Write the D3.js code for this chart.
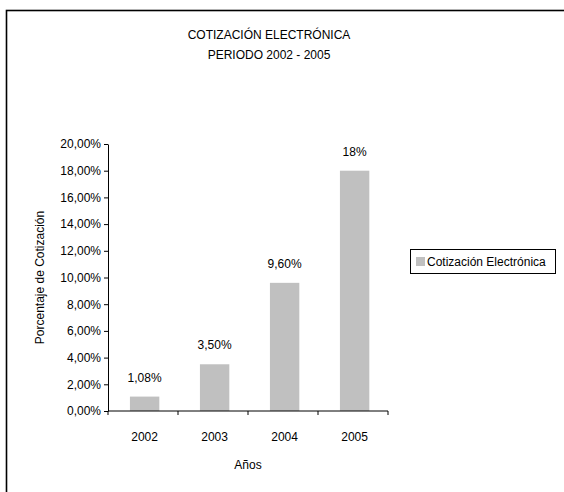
<!DOCTYPE html>
<html>
<head>
<meta charset="utf-8">
<script src="https://cdn.jsdelivr.net/npm/d3@7"></script>
<style>
  html, body { margin: 0; padding: 0; background: #fff; }
  svg { display: block; font-family: "Liberation Sans", Arial, sans-serif; }
</style>
</head>
<body>
<svg id="chart" width="564" height="492"></svg>
<script>
// Electronic quotation share by year
const years = ["2002", "2003", "2004", "2005"];
const values = [1.08, 3.50, 9.60, 18];
const valueLabels = ["1,08%", "3,50%", "9,60%", "18%"];
const yTicks = [0, 2, 4, 6, 8, 10, 12, 14, 16, 18, 20];
const titleLines = ["COTIZACIÓN ELECTRÓNICA", "PERIODO 2002 - 2005"];
const seriesName = "Cotización Electrónica";

const svg = d3.select("#chart");

// outer chart frame (runs off the right and bottom edges)
svg.append("rect")
  .attr("x", 6.5).attr("y", 10.5)
  .attr("width", 600).attr("height", 600)
  .attr("fill", "#fff")
  .attr("stroke", "#000").attr("stroke-width", 1.6);

const plot = { left: 108, right: 388, top: 144, bottom: 411 };

const x = d3.scaleBand()
  .domain(years)
  .range([plot.left, plot.right])
  .paddingInner(0.58)
  .paddingOuter(0.29)
  .align(0.54);

const y = d3.scaleLinear()
  .domain([0, 20])
  .range([plot.bottom, plot.top]);

// title
svg.append("g").selectAll("text")
  .data(titleLines)
  .join("text")
  .attr("x", 269)
  .attr("y", (d, i) => 39 + i * 20)
  .attr("text-anchor", "middle")
  .attr("font-size", 12)
  .attr("fill", "#000")
  .text(d => d);

// bars
svg.append("g").selectAll("rect")
  .data(values)
  .join("rect")
  .attr("x", (d, i) => x(years[i]))
  .attr("y", d => y(d))
  .attr("width", x.bandwidth())
  .attr("height", d => y(0) - y(d))
  .attr("fill", "#C0C0C0");

// value labels
svg.append("g").selectAll("text")
  .data(values)
  .join("text")
  .attr("x", (d, i) => x(years[i]) + x.bandwidth() / 2)
  .attr("y", d => y(d) - 15)
  .attr("text-anchor", "middle")
  .attr("font-size", 12)
  .attr("fill", "#000")
  .text((d, i) => valueLabels[i]);

// y axis
const fmt = d => d.toFixed(2).replace(".", ",") + "%";
const yAxis = svg.append("g")
  .attr("transform", `translate(${plot.left},0)`)
  .call(d3.axisLeft(y).tickValues(yTicks).tickFormat(fmt).tickSize(4).tickSizeOuter(0));
yAxis.select(".domain").attr("stroke", "#000");
yAxis.selectAll(".tick line").attr("stroke", "#000");
yAxis.selectAll(".tick text")
  .attr("font-size", 12)
  .attr("font-family", "Liberation Sans, Arial, sans-serif")
  .attr("fill", "#000")
  .attr("x", -7);

// x axis: ticks between categories
const xAxisG = svg.append("g")
  .attr("transform", `translate(0,${plot.bottom})`);
xAxisG.append("line")
  .attr("x1", plot.left).attr("x2", plot.right)
  .attr("stroke", "#000");
const boundaries = d3.range(years.length + 1).map(i => plot.left + i * (plot.right - plot.left) / years.length);
xAxisG.selectAll("line.sep")
  .data(boundaries)
  .join("line")
  .attr("class", "sep")
  .attr("x1", d => d).attr("x2", d => d)
  .attr("y1", 0).attr("y2", 4)
  .attr("stroke", "#000");
xAxisG.selectAll("text")
  .data(years)
  .join("text")
  .attr("x", d => x(d) + x.bandwidth() / 2)
  .attr("y", 30)
  .attr("text-anchor", "middle")
  .attr("font-size", 12)
  .attr("fill", "#000")
  .text(d => d);

// axis titles
svg.append("text")
  .attr("x", 248)
  .attr("y", 469)
  .attr("text-anchor", "middle")
  .attr("font-size", 12)
  .attr("fill", "#000")
  .text("Años");

svg.append("text")
  .attr("transform", `translate(44,${(plot.top + plot.bottom) / 2}) rotate(-90)`)
  .attr("text-anchor", "middle")
  .attr("font-size", 12)
  .attr("fill", "#000")
  .text("Porcentaje de Cotización");

// legend
const legend = svg.append("g");
legend.append("rect")
  .attr("x", 410.5).attr("y", 249.5)
  .attr("width", 145).attr("height", 24)
  .attr("fill", "#fff")
  .attr("stroke", "#000").attr("stroke-width", 1);
legend.append("rect")
  .attr("x", 416).attr("y", 257)
  .attr("width", 9).attr("height", 9)
  .attr("fill", "#C0C0C0");
legend.append("text")
  .attr("x", 427)
  .attr("y", 266)
  .attr("font-size", 12)
  .attr("fill", "#000")
  .text(seriesName);
</script>
</body>
</html>
